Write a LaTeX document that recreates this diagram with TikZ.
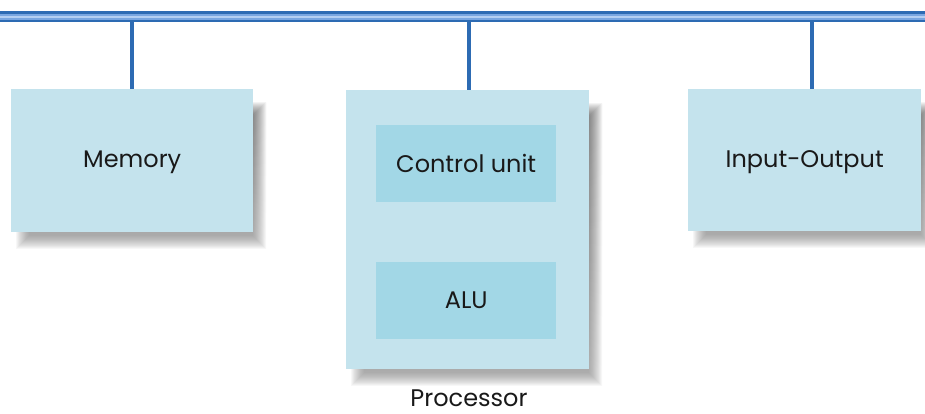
\documentclass[tikz,border=0pt]{standalone}
\usepackage{fontspec}
\setmainfont{Poppins}
\usetikzlibrary{calc,backgrounds}
\definecolor{busdark}{HTML}{2D6BB3}
\definecolor{busmid}{HTML}{79A6E0}
\definecolor{buslight}{HTML}{B4CFF2}
\definecolor{boxfill}{HTML}{C4E3ED}
\definecolor{unitfill}{HTML}{A2D7E6}
\definecolor{shade}{HTML}{A39560}
\tikzset{
  x=1pt, y=-1pt,
  block/.style={fill=boxfill, draw=none, anchor=north west, inner sep=0pt},
  unit/.style={fill=unitfill, draw=none, anchor=north west, inner sep=0pt},
  label/.style={font=\fontsize{24}{27}\selectfont, text=black!90},
  tap/.style={draw=busdark, line width=3.2pt},
}
% soft drop shadow under a named block
\newcommand\softshadow[1]{%
  \foreach \i in {0,...,13}{%
    \fill[shade, opacity=0.032]
      ($(#1.north west)+(18-\i,26-\i)$) rectangle ($(#1.south east)+(\i,4+\i)$);
  }}
\begin{document}
\begin{tikzpicture}
\useasboundingbox (0,0) rectangle (925,413);
% system bus
\coordinate (busL) at (0,16.5);
\coordinate (busR) at (925,16.5);
\draw[busdark, line width=11.5pt] (busL) -- (busR);
\draw[busmid, line width=6pt] (busL) -- (busR);
\draw[buslight, line width=2pt] (busL) -- (busR);
% modules
\node[block, minimum width=242pt, minimum height=143pt] (mem) at (11,89) {};
\node[label] at ([yshift=-2pt]mem.center) {Memory};
\node[block, minimum width=243pt, minimum height=279pt] (proc) at (346,90) {};
\node[block, minimum width=233pt, minimum height=142pt] (io) at (688,89) {};
\node[label] at ([yshift=-2pt]io.center) {Input-Output};
\node[unit, minimum width=180pt, minimum height=77pt] (cu) at (376,125) {};
\node[label] at (cu.center) {Control unit};
\node[unit, minimum width=180pt, minimum height=77pt] (alu) at (376,262) {};
\node[label] at (alu.center) {ALU};
\node[label, anchor=center] (plabel) at (469,398) {Processor};
\begin{pgfonlayer}{background}
  \fill[white] (0,0) rectangle (925,413);
  \softshadow{mem}
  \softshadow{proc}
  \softshadow{io}
\end{pgfonlayer}
% taps from the bus
\coordinate (t1) at (132,21);
\coordinate (t2) at (469,21);
\coordinate (t3) at (812,21);
\draw[tap] (t1) -- (t1 |- mem.north);
\draw[tap] (t2) -- (t2 |- proc.north);
\draw[tap] (t3) -- (t3 |- io.north);
\end{tikzpicture}
\end{document}
